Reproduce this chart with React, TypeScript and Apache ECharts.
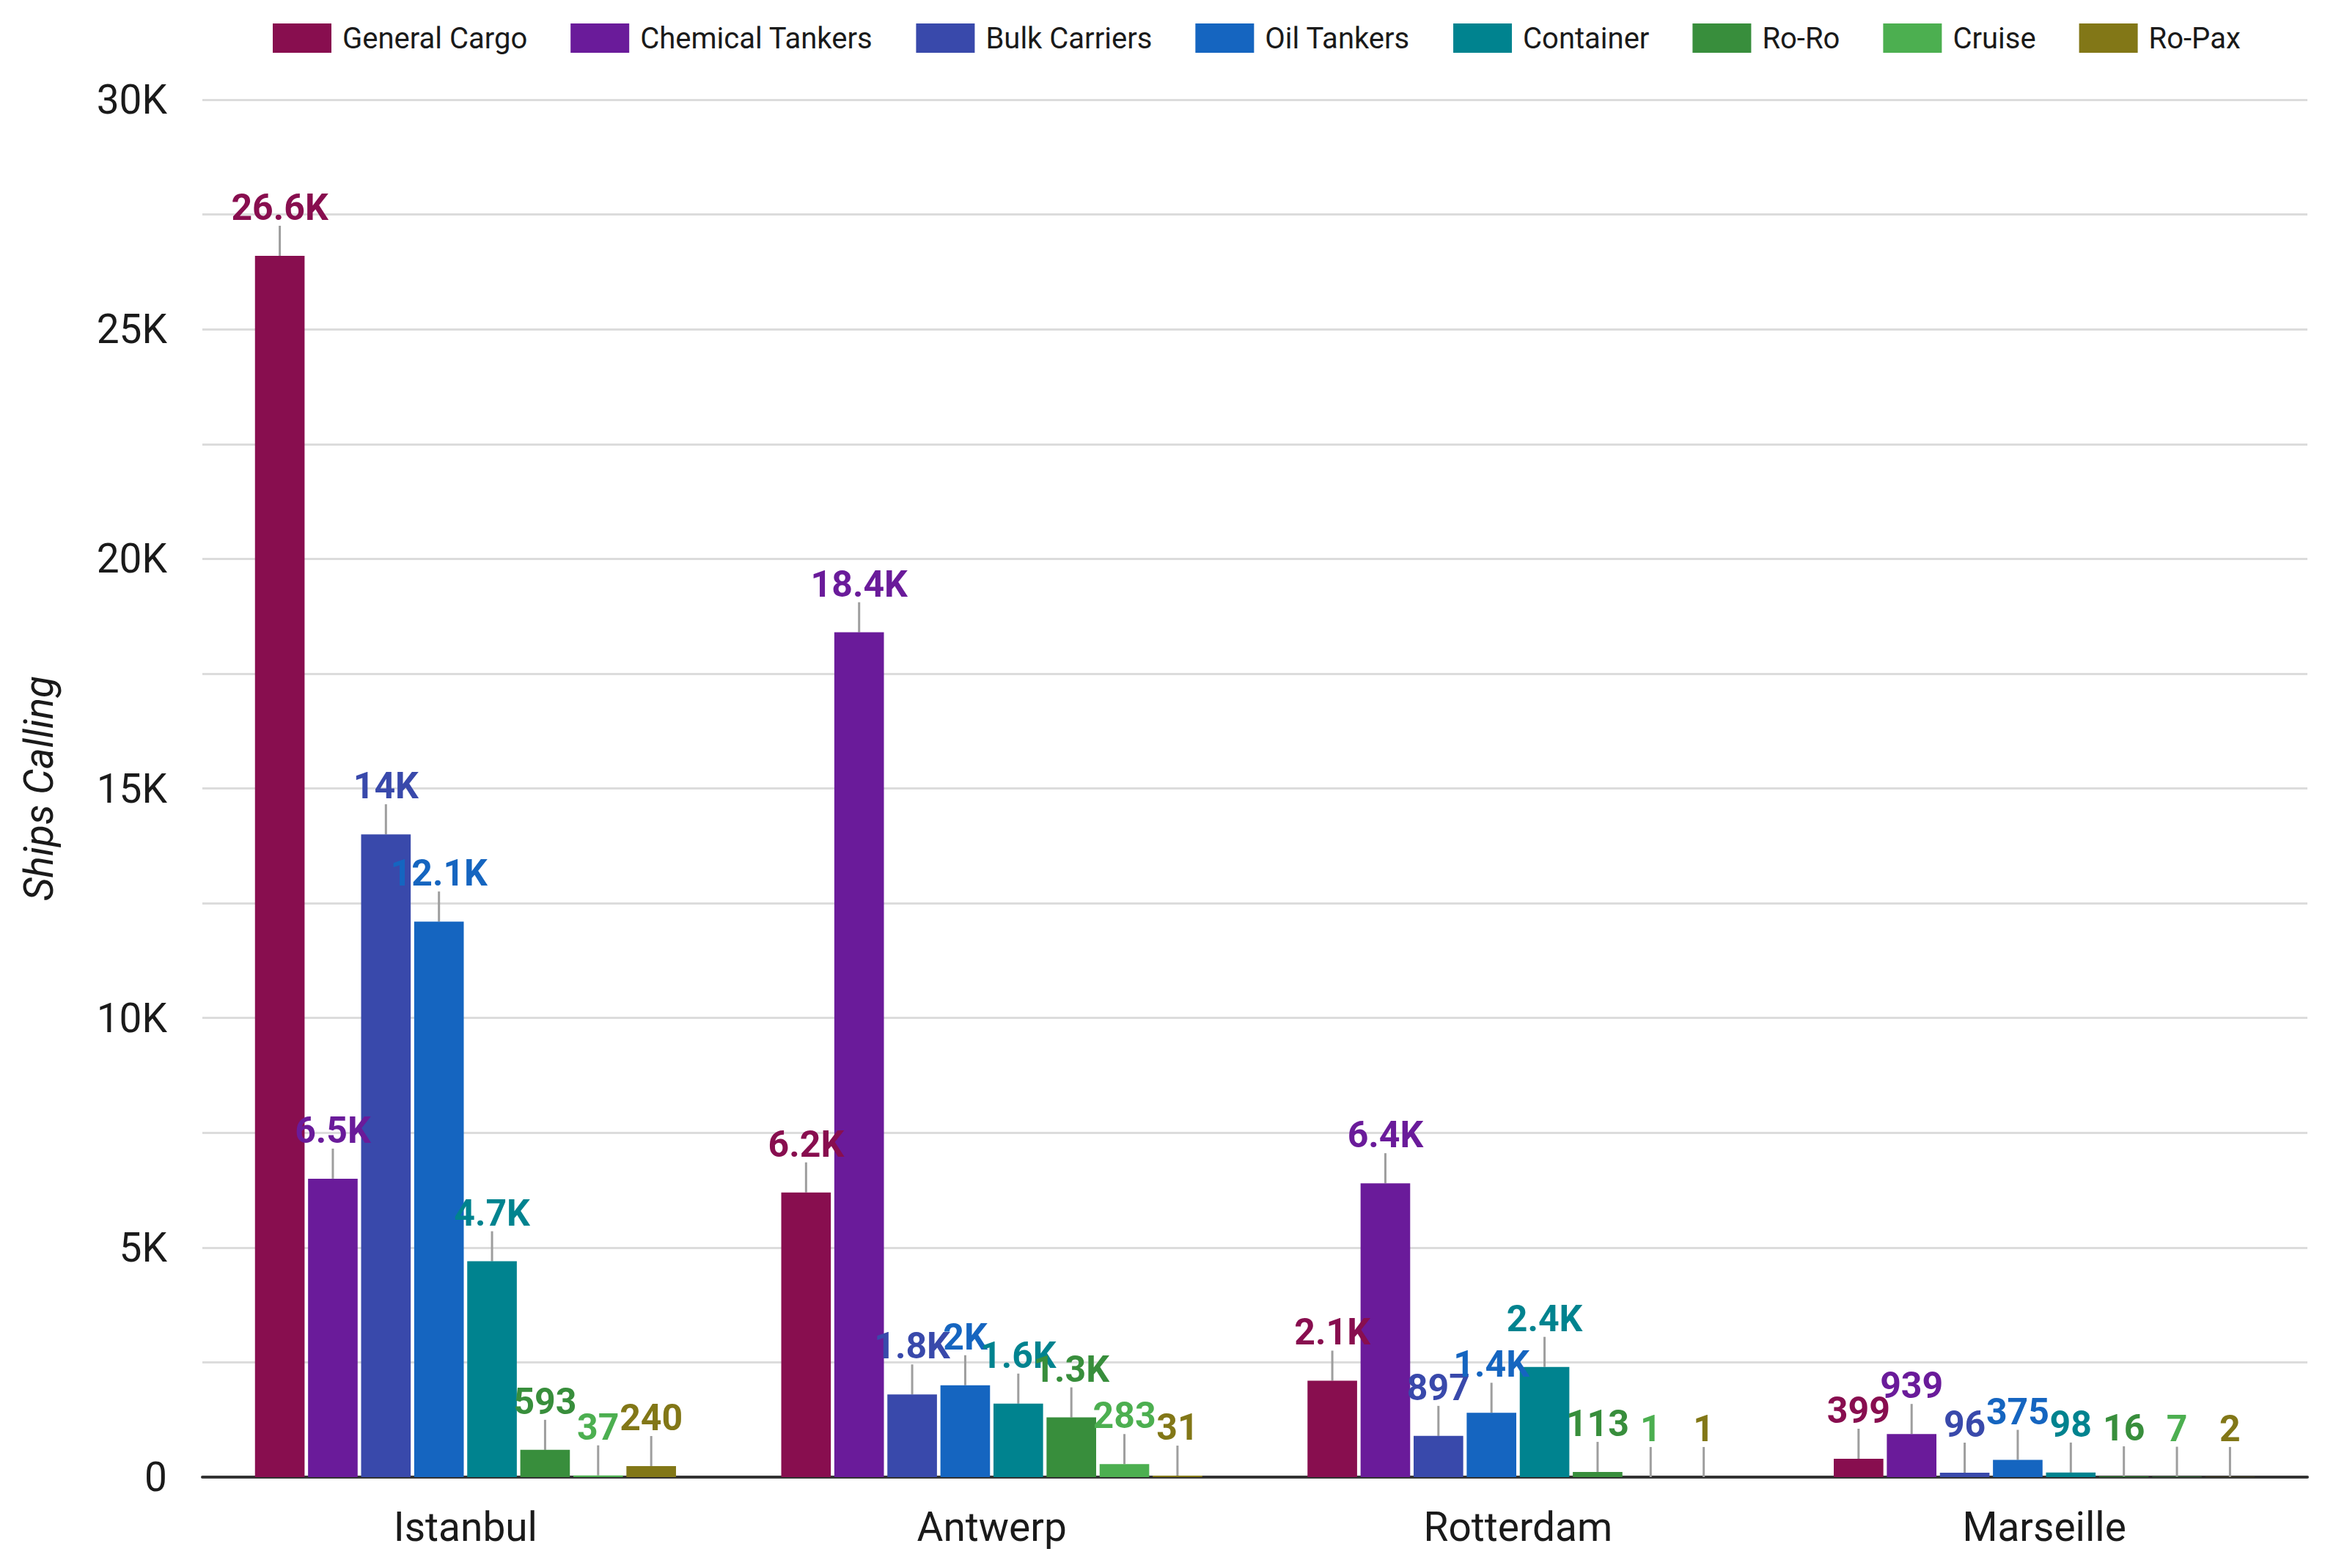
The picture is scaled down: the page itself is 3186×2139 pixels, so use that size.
import React, { useEffect, useRef } from 'react';
import * as echarts from 'echarts';

const ports = ['Istanbul', 'Antwerp', 'Rotterdam', 'Marseille'];
const shipTypes = ['General Cargo', 'Chemical Tankers', 'Bulk Carriers', 'Oil Tankers', 'Container', 'Ro-Ro', 'Cruise', 'Ro-Pax'];
const generalCargo = [26600, 6200, 2100, 399];
const chemicalTankers = [6500, 18400, 6400, 939];
const bulkCarriers = [14000, 1800, 897, 96];
const oilTankers = [12100, 2000, 1400, 375];
const container = [4700, 1600, 2400, 98];
const roRo = [593, 1300, 113, 16];
const cruise = [37, 283, 1, 7];
const roPax = [240, 31, 1, 2];
const seriesValues = [generalCargo, chemicalTankers, bulkCarriers, oilTankers, container, roRo, cruise, roPax];
const colors = ['#880E4F', '#6A1B9A', '#3949AB', '#1565C0', '#00838F', '#388E3C', '#4CAF50', '#827717'];
const yAxisMax = 30000;
const yGridStep = 2500;
const yLabelStep = 5000;

const fmt = (v: number) => (v >= 1000 ? Math.round(v / 100) / 10 + 'K' : String(v));

export default function App() {
  const ref = useRef<HTMLDivElement>(null);
  useEffect(() => {
    if (!ref.current) return;
    const chart = echarts.init(ref.current, undefined, { renderer: 'svg' });
    const font = 'Roboto';
    chart.setOption({
      animation: false,
      backgroundColor: '#ffffff',
      textStyle: { fontFamily: font },
      legend: {
        left: 372,
        top: 32,
        padding: 0,
        itemWidth: 80,
        itemHeight: 40,
        itemGap: 59,
        icon: 'rect',
        textStyle: { fontSize: 40, color: '#1a1a1a', fontFamily: font, padding: [0, 0, 0, 10] },
        data: shipTypes,
      },
      grid: { left: 276, right: 39, top: 136, bottom: 124, containLabel: false },
      xAxis: {
        type: 'category',
        data: ports,
        axisLine: { lineStyle: { color: '#333333', width: 4 } },
        axisTick: { show: false },
        axisLabel: { fontSize: 55, color: '#1a1a1a', margin: 40, fontFamily: font },
      },
      yAxis: {
        type: 'value',
        min: 0,
        max: yAxisMax,
        interval: yGridStep,
        name: 'Ships Calling',
        nameLocation: 'middle',
        nameGap: 196,
        nameRotate: 90,
        nameTextStyle: { fontSize: 55, fontStyle: 'italic', color: '#1a1a1a', fontFamily: font },
        axisLine: { show: false },
        axisTick: { show: false },
        axisLabel: {
          fontSize: 55,
          color: '#1a1a1a',
          margin: 48,
          fontFamily: font,
          formatter: (v: number) => (v % yLabelStep === 0 ? (v === 0 ? '0' : v / 1000 + 'K') : ''),
        },
        splitLine: { lineStyle: { color: '#dcdcdc', width: 3 } },
      },
      series: shipTypes.map((name, i) => ({
        name,
        type: 'bar',
        data: seriesValues[i],
        barGap: '7%',
        barCategoryGap: '20%',
        itemStyle: { color: colors[i] },
        label: {
          show: true,
          position: 'top',
          formatter: (p: any) => fmt(p.value),
          color: colors[i],
          fontSize: 50,
          fontWeight: 'bold',
          fontFamily: font,
        },
        labelLine: { show: true, length2: 0, lineStyle: { color: '#9e9e9e', width: 3 } },
        labelLayout: (p: any) => ({
          x: p.rect.x + p.rect.width / 2,
          y: p.rect.y - 41,
          align: 'center',
          verticalAlign: 'bottom',
        }),
      })),
    });
    return () => chart.dispose();
  }, []);
  return <div ref={ref} style={{ position: 'fixed', left: 0, top: 0, width: 3186, height: 2139 }} />;
}
